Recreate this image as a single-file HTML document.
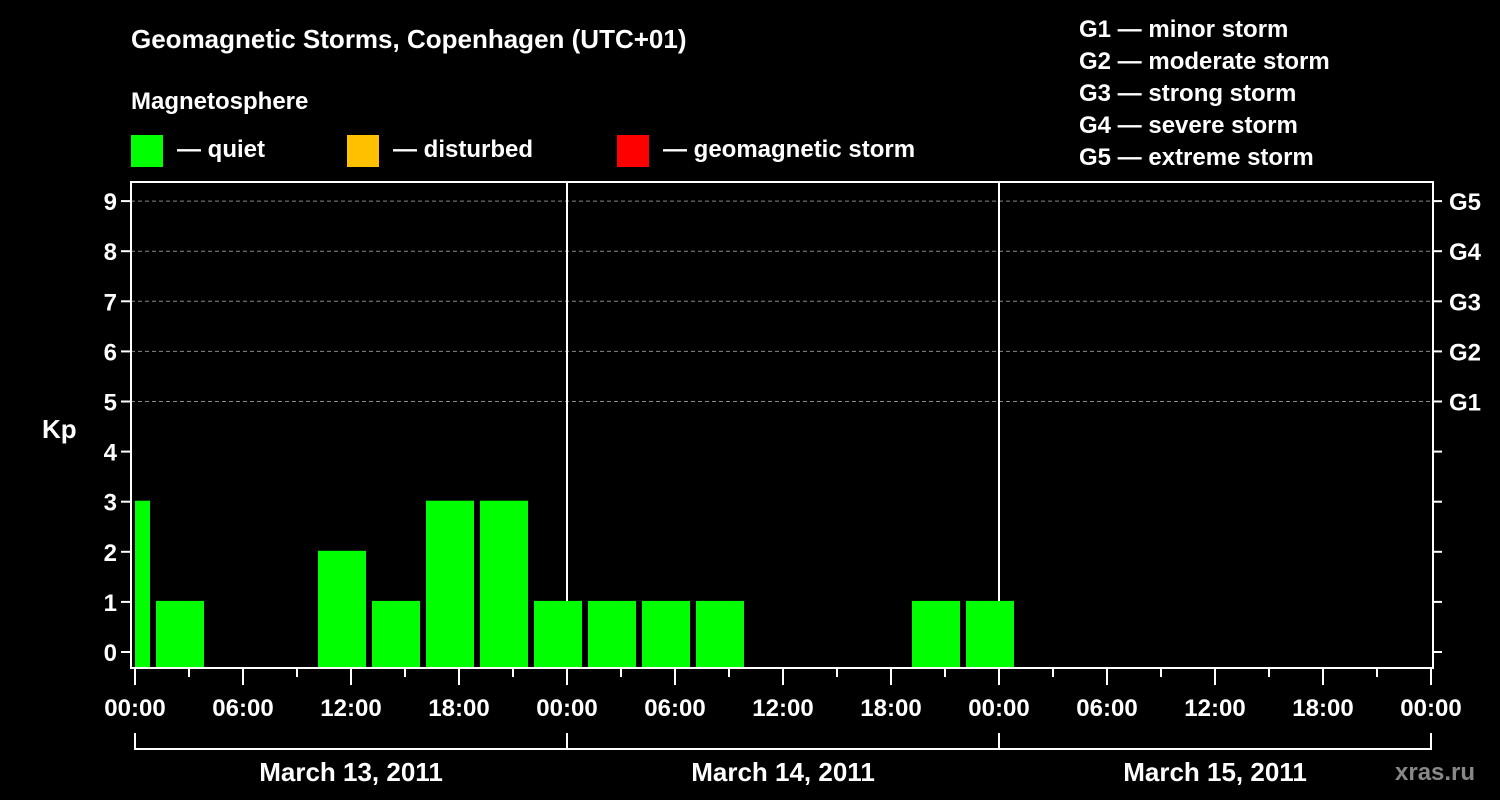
<!DOCTYPE html>
<html><head><meta charset="utf-8"><style>
html,body{margin:0;padding:0;background:#000;width:1500px;height:800px;overflow:hidden}
svg text{font-family:"Liberation Sans",sans-serif;font-weight:bold;fill:#fff}
</style></head><body>
<svg id="chart" width="1500" height="800" xmlns="http://www.w3.org/2000/svg">
<text x="131" y="48" font-size="26">Geomagnetic Storms, Copenhagen (UTC+01)</text>
<text x="131" y="109" font-size="24">Magnetosphere</text>
<rect x="131" y="135" width="32" height="32" fill="#00ff00"/>
<text x="177" y="157" font-size="24">— quiet</text>
<rect x="347" y="135" width="32" height="32" fill="#ffc000"/>
<text x="393" y="157" font-size="24">— disturbed</text>
<rect x="617" y="135" width="32" height="32" fill="#ff0000"/>
<text x="663" y="157" font-size="24">— geomagnetic storm</text>
<g font-size="24">
<text x="1079" y="37">G1 — minor storm</text>
<text x="1079" y="69">G2 — moderate storm</text>
<text x="1079" y="101">G3 — strong storm</text>
<text x="1079" y="133">G4 — severe storm</text>
<text x="1079" y="165">G5 — extreme storm</text>
</g>
<text x="42" y="438" font-size="26">Kp</text>
<text x="1395" y="780" font-size="24" fill="#888" style="fill:#888">xras.ru</text>
<g id="plot"></g>
</svg>
<script>
const kpValues = [3, 1, null, null, 2, 1, 3, 3, 1, 1, 1, 1, null, null, null, 1, 1, null, null, null, null, null, null, null, null];
const barStartHours = [-2, 1, 4, 7, 10, 13, 16, 19, 22, 25, 28, 31, 34, 37, 40, 43, 46, 49, 52, 55, 58, 61, 64, 67, 70];
const yTicks = [0, 1, 2, 3, 4, 5, 6, 7, 8, 9];
const gLabels = ["G1", "G2", "G3", "G4", "G5"];
const xTickLabels = ["00:00", "06:00", "12:00", "18:00", "00:00", "06:00", "12:00", "18:00", "00:00", "06:00", "12:00", "18:00", "00:00"];
const dateLabels = ["March 13, 2011", "March 14, 2011", "March 15, 2011"];

const NS = "http://www.w3.org/2000/svg";
const plot = document.getElementById("plot");
const L = 131, R = 1433, T = 182, B = 668, X0 = 135, HPX = 18;
const xs = h => X0 + h * HPX;
const ys = v => 652 - v * 50.1;
function mk(tag, attrs, parent) {
  const e = document.createElementNS(NS, tag);
  for (const k in attrs) e.setAttribute(k, attrs[k]);
  (parent || plot).appendChild(e);
  return e;
}
// grid lines
for (let v = 5; v <= 9; v++) {
  const g = mk("line", {x1: L, x2: R, y1: ys(v), y2: ys(v), stroke: "#888", "stroke-dasharray": "4,3", "stroke-width": 1});
  
  
}
// day separators
for (let d = 1; d <= 2; d++) {
  const s = mk("line", {x1: xs(d * 24), x2: xs(d * 24), y1: T, y2: B, stroke: "#fff", "stroke-width": 2});
  
  
}
// bars
kpValues.forEach((v, i) => {
  if (v === null) return;
  let a = Math.max(xs(barStartHours[i]) + 3, xs(0));
  let b = Math.min(xs(barStartHours[i] + 3) - 3, xs(72));
  if (b <= a) return;
  const col = v >= 5 ? "#ff0000" : (v >= 4 ? "#ffc000" : "#00ff00");
  const r = mk("rect", {x: a, y: ys(v) - 1, width: b - a, height: B - ys(v) + 1, fill: col});
  
  
});
// axes box
const box = mk("rect", {x: L, y: T, width: R - L, height: B - T, fill: "none", stroke: "#fff", "stroke-width": 2});


// y ticks
yTicks.forEach(v => {
  const t = mk("line", {x1: L - 10, x2: L, y1: ys(v), y2: ys(v), stroke: "#fff", "stroke-width": 2});
  
  
  const t2 = mk("line", {x1: R, x2: R + 9, y1: ys(v), y2: ys(v), stroke: "#fff", "stroke-width": 2});
  
  
  const tx = mk("text", {x: L - 14, y: ys(v) + 9, "text-anchor": "end", "font-size": 24});
  tx.textContent = v;
  
  
});
gLabels.forEach((g, i) => {
  const tx = mk("text", {x: 1449, y: ys(5 + i) + 9, "font-size": 24});
  tx.textContent = g;
  
  
});
// x ticks
for (let h = 0; h <= 72; h += 3) {
  const major = h % 6 === 0;
  const t = mk("line", {x1: xs(h), x2: xs(h), y1: B, y2: B + (major ? 17 : 9), stroke: "#fff", "stroke-width": 2});
  
  
}
xTickLabels.forEach((s, i) => {
  const tx = mk("text", {x: xs(i * 6), y: 716, "text-anchor": "middle", "font-size": 24});
  tx.textContent = s;
  
  
});
// date bracket
const br = mk("line", {x1: xs(0), x2: xs(72), y1: 749, y2: 749, stroke: "#fff", "stroke-width": 2});


for (let d = 0; d <= 3; d++) {
  const t = mk("line", {x1: xs(d * 24), x2: xs(d * 24), y1: 733, y2: 750, stroke: "#fff", "stroke-width": 2});
  
  
}
dateLabels.forEach((s, i) => {
  const tx = mk("text", {x: xs(i * 24 + 12), y: 781, "text-anchor": "middle", "font-size": 26});
  tx.textContent = s;
  
  
});
</script>
</body></html>
